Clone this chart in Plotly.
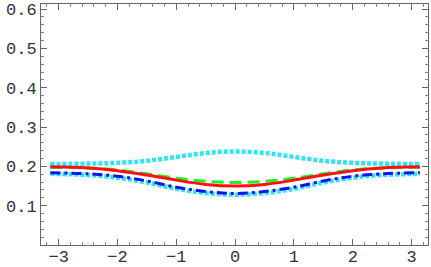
import plotly.graph_objects as go

x_vals = [-3.1416, -2.5, -2.0, -1.5, -1.0, -0.5, 0.0, 0.5, 1.0, 1.5, 2.0, 2.5, 3.1416]
cyan_upper = [0.206, 0.207, 0.209, 0.214, 0.224, 0.234, 0.238, 0.234, 0.224, 0.214, 0.209, 0.207, 0.206]
green_dashed = [0.197, 0.196, 0.191, 0.181, 0.170, 0.162, 0.159, 0.162, 0.170, 0.181, 0.191, 0.196, 0.197]
red_solid = [0.199, 0.196, 0.189, 0.178, 0.165, 0.154, 0.150, 0.154, 0.165, 0.178, 0.189, 0.196, 0.199]
blue_dashdot = [0.184, 0.181, 0.175, 0.163, 0.147, 0.136, 0.131, 0.136, 0.147, 0.163, 0.175, 0.181, 0.184]
cyan_lower = [0.181, 0.178, 0.171, 0.159, 0.143, 0.132, 0.128, 0.132, 0.143, 0.159, 0.171, 0.178, 0.181]

x_ticks = [-3, -2, -1, 0, 1, 2, 3]
x_tick_text = ["\u22123", "\u22122", "\u22121", "0", "1", "2", "3"]
y_ticks = [0.1, 0.2, 0.3, 0.4, 0.5, 0.6]
y_tick_text = ["0.1", "0.2", "0.3", "0.4", "0.5", "0.6"]

fig = go.Figure()
series = [
    (cyan_upper, "#2EE6F2", "4px,2px", 4.5),
    (cyan_lower, "#2EE6F2", "4px,2px", 4.5),
    (green_dashed, "#22EE22", "12px,6px", 3),
    (red_solid, "#FF1010", "solid", 3),
    (blue_dashdot, "#1010FF", "10px,4px,3px,4px", 3),
]
for ys, col, dash, w in series:
    fig.add_trace(go.Scatter(
        x=x_vals, y=ys, mode="lines",
        line=dict(color=col, width=w, dash=dash, shape="spline", smoothing=1.0),
        hoverinfo="skip", showlegend=False,
    ))

axis_common = dict(
    showgrid=False, zeroline=False, showline=True, linecolor="#666666", linewidth=1,
    mirror="ticks", ticks="inside", ticklen=6, tickcolor="#666666", tickwidth=1,
    automargin=False,
    tickfont=dict(family="Liberation Mono, Courier New, monospace", size=17, color="#333333"),
)
fig.update_xaxes(
    range=[-3.30, 3.28], tickvals=x_ticks, ticktext=x_tick_text,
    minor=dict(dtick=0.2, tick0=0, ticks="inside", ticklen=3, tickcolor="#888888", showgrid=False),
    ticklabelstandoff=-4,
    **axis_common,
)
fig.update_yaxes(
    range=[0, 0.613], tickvals=y_ticks, ticktext=y_tick_text,
    minor=dict(dtick=0.02, tick0=0, ticks="inside", ticklen=3, tickcolor="#888888", showgrid=False),
    **axis_common,
)
fig.update_layout(
    width=431, height=267,
    margin=dict(l=41, r=3, t=4, b=22),
    paper_bgcolor="white", plot_bgcolor="white",
)
fig.write_html("out.html", config={"displayModeBar": False},
               post_script="document.body.style.margin='0';")
